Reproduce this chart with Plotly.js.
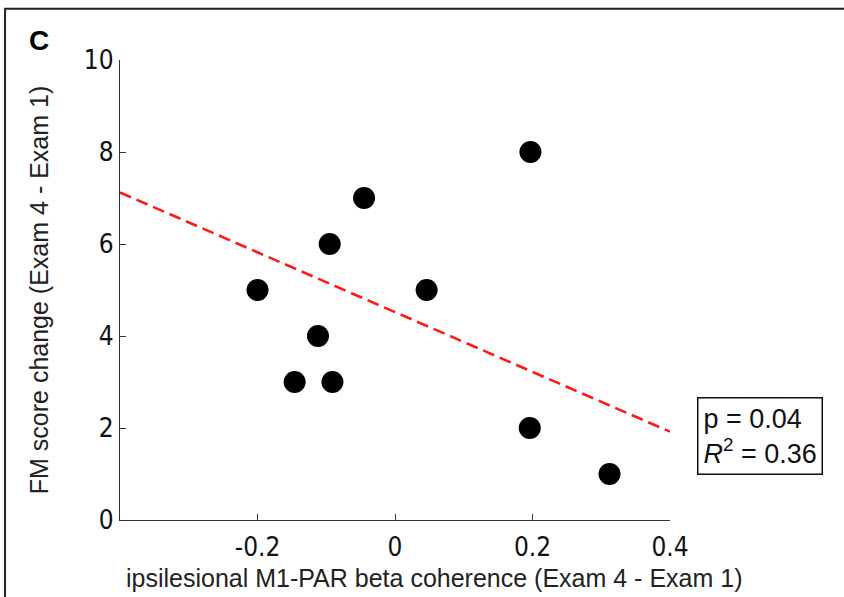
<!DOCTYPE html>
<html>
<head>
<meta charset="utf-8">
<script src="https://cdn.plot.ly/plotly-3.0.1.min.js"></script>
<style>
  html, body { margin: 0; padding: 0; background: #fff; }
  #chart { width: 844px; height: 597px; }
</style>
</head>
<body>
<div id="chart"></div>
<script>
// Data
const coherenceChange = [-0.200, -0.146, -0.112, -0.095, -0.091, -0.045, 0.046, 0.197, 0.196, 0.312];
const fmScoreChange   = [5, 3, 4, 6, 3, 7, 5, 8, 2, 1];
const fitX = [-0.4, 0.4];
const fitY = [7.12, 1.92];
const xTicks = [-0.2, 0, 0.2, 0.4];
const xTickLabels = ['-0.2', '0', '0.2', '0.4'];
const yTicks = [0, 2, 4, 6, 8, 10];
const yTickLabels = ['0', '2', '4', '6', '8', '10'];
const panelLabel = 'C';
const xTitle = 'ipsilesional M1-PAR beta coherence (Exam 4 - Exam 1)';
const yTitle = 'FM score change (Exam 4 - Exam 1)';
const statsText = 'p = 0.04<br><i>R</i><sup>2</sup> = 0.36';

const tickFont = {family: '"Liberation Sans Narrow", "Arial Narrow", "DejaVu Sans Condensed", "Liberation Sans", Arial, sans-serif', size: 26, color: '#111'};
const titleFont = {family: '"Liberation Sans", Arial, sans-serif', size: 25, color: '#222'};

const traces = [
  {
    x: fitX, y: fitY, type: 'scatter', mode: 'lines',
    line: {color: '#ff1a1a', width: 2.6, dash: '12px,6px'},
    hoverinfo: 'skip', showlegend: false
  },
  {
    x: coherenceChange, y: fmScoreChange, type: 'scatter', mode: 'markers',
    marker: {color: '#000', size: 22, line: {width: 0}},
    showlegend: false
  }
];

const layout = {
  width: 844, height: 597,
  margin: {l: 120, r: 174, t: 60, b: 77, pad: 0},
  paper_bgcolor: '#fff', plot_bgcolor: '#fff',
  showlegend: false,
  xaxis: {
    range: [-0.4, 0.4],
    tickmode: 'array', tickvals: xTicks, ticktext: xTickLabels,
    ticks: 'inside', ticklen: 6, tickcolor: '#333', tickwidth: 1,
    ticklabelstandoff: 4,
    showline: true, linecolor: '#333', linewidth: 1.2,
    showgrid: false, zeroline: false, mirror: false,
    tickfont: tickFont
  },
  yaxis: {
    range: [0, 10],
    tickmode: 'array', tickvals: yTicks, ticktext: yTickLabels,
    ticks: 'inside', ticklen: 6, tickcolor: '#333', tickwidth: 1,
    showline: true, linecolor: '#333', linewidth: 1.2,
    showgrid: false, zeroline: false, mirror: false,
    tickfont: tickFont,
    title: {text: yTitle, font: titleFont, standoff: 28}
  },
  annotations: [
    {
      xref: 'paper', yref: 'paper', x: -0.170, y: 1.042, xanchor: 'left', yanchor: 'middle',
      text: '<b>' + panelLabel + '</b>', showarrow: false,
      font: {family: '"Liberation Sans", Arial, sans-serif', size: 28, color: '#000'}
    },
    {
      xref: 'paper', yref: 'paper', x: 0.571, y: -0.126, xanchor: 'center', yanchor: 'middle',
      text: xTitle, showarrow: false,
      font: titleFont
    },
    {
      xref: 'paper', yref: 'paper', x: 1.049, y: 0.267, xanchor: 'left', yanchor: 'top',
      text: statsText, showarrow: false, align: 'left',
      bordercolor: '#111', borderwidth: 1.5, borderpad: 5, bgcolor: '#fff',
      font: {family: '"Liberation Sans", Arial, sans-serif', size: 27, color: '#111'}
    }
  ],
  shapes: [
    {
      type: 'rect', xref: 'paper', yref: 'paper',
      x0: -0.209, x1: 1.33, y0: -0.2, y1: 1.1115,
      line: {color: '#222', width: 2}, fillcolor: 'rgba(0,0,0,0)', layer: 'below'
    }
  ]
};

Plotly.newPlot('chart', traces, layout, {displayModeBar: false, staticPlot: true});
</script>
</body>
</html>
